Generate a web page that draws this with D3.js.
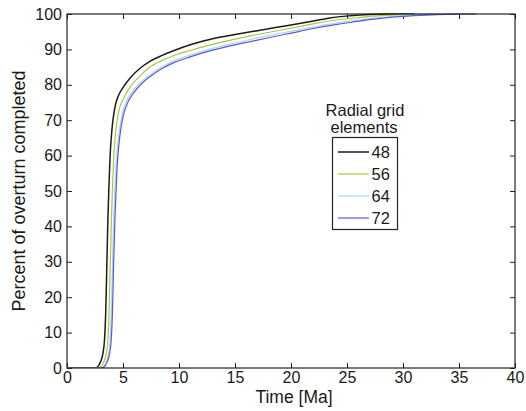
<!DOCTYPE html>
<html>
<head>
<meta charset="utf-8">
<script src="https://cdn.jsdelivr.net/npm/d3@7"></script>
<style>
  html, body { margin: 0; padding: 0; background: #fff; }
  svg text { font-family: "Liberation Sans", Arial, Helvetica, sans-serif; fill: #1a1a1a; }
</style>
</head>
<body>
<svg id="chart" width="526" height="411"></svg>
<script>
// ---- data ----
const seriesLabels = ["48", "56", "64", "72"];
const xTicks = [0, 5, 10, 15, 20, 25, 30, 35, 40];
const yTicks = [0, 10, 20, 30, 40, 50, 60, 70, 80, 90, 100];

const series48 = [[0,0],[2.5,0],[2.8,0.6],[3.0,1.8],[3.2,4],[3.35,8],[3.45,15],[3.55,28],[3.65,42],[3.75,52],[3.85,60],[3.95,65],[4.1,70],[4.3,74],[4.6,77],[5.0,79.2],[5.6,81.8],[6.5,84.6],[7.4,86.6],[8.5,88.3],[9.5,89.6],[11,91.3],[13,93.0],[15,94.2],[17,95.3],[20,96.9],[22,98.0],[23.5,98.9],[25.3,99.5],[27,99.85],[28.5,100],[31,100]];
const series56 = [[0,0],[2.8,0],[3.1,0.6],[3.3,1.8],[3.5,4],[3.65,8],[3.75,15],[3.85,28],[3.95,40],[4.05,50],[4.15,58],[4.3,65],[4.45,69.5],[4.7,73.5],[5.1,76.5],[5.6,79.2],[6.3,81.8],[7.4,85.0],[8.5,86.9],[9.5,88.2],[11,89.7],[13,91.4],[15,92.9],[17,94.2],[19,95.4],[21,96.6],[22.3,97.4],[24,98.3],[26,99.0],[28.3,99.6],[30,99.85],[32.5,100],[33,100]];
const series64 = [[0,0],[3.0,0],[3.3,0.6],[3.5,1.8],[3.7,4],[3.85,8],[3.95,15],[4.05,28],[4.17,42],[4.27,50],[4.37,57],[4.52,63],[4.72,68],[4.95,72],[5.35,75.7],[5.8,77.9],[6.4,80.2],[7.4,82.8],[8.5,85.1],[9.5,86.7],[11,88.4],[13,90.3],[15,91.8],[16.35,92.8],[18,93.9],[20,95.1],[22,96.3],[24,97.4],[25.3,98.0],[27,98.7],[29,99.3],[31,99.7],[33,99.9],[35,100]];
const series72 = [[0,0],[3.1,0],[3.4,0.6],[3.6,1.8],[3.8,4],[3.95,8],[4.05,15],[4.15,28],[4.28,42],[4.38,50],[4.48,57],[4.63,63],[4.83,68],[5.08,72],[5.5,75.5],[5.9,77.5],[6.5,79.8],[7.4,82.3],[8.5,84.6],[9.5,86.2],[11,87.9],[13,89.8],[15,91.3],[16.35,92.2],[18,93.3],[20,94.6],[22,95.9],[24,97.0],[25.3,97.6],[27,98.4],[29,99.1],[31,99.55],[33,99.85],[35,99.97],[36.5,100]];

const allSeries = [series48, series56, series64, series72];
const seriesColors = ["#1c1c1c", "#a9c83c", "#a6d6f2", "#5b58d6"];
const seriesWidths = [1.5, 1.2, 1.2, 1.2];

// ---- layout ----
const svg = d3.select("#chart");
const mLeft = 67, mRight = 515, mTop = 14, mBottom = 368;
const x = d3.scaleLinear().domain([0, 40]).range([mLeft, mRight]);
const y = d3.scaleLinear().domain([0, 100]).range([mBottom, mTop]);
const tickFont = 16;

// axes with inward ticks
const gB = svg.append("g").attr("transform", `translate(0,${mBottom})`)
  .call(d3.axisBottom(x).tickValues(xTicks).tickSizeInner(-5).tickSizeOuter(0).tickPadding(3));
const gT = svg.append("g").attr("transform", `translate(0,${mTop})`)
  .call(d3.axisTop(x).tickValues(xTicks).tickSizeInner(-5).tickSizeOuter(0).tickFormat(""));
const gL = svg.append("g").attr("transform", `translate(${mLeft},0)`)
  .call(d3.axisLeft(y).tickValues(yTicks).tickSizeInner(-5).tickSizeOuter(0).tickPadding(5));
const gR = svg.append("g").attr("transform", `translate(${mRight},0)`)
  .call(d3.axisRight(y).tickValues(yTicks).tickSizeInner(-5).tickSizeOuter(0).tickFormat(""));

[gB, gT, gL, gR].forEach(g => {
  g.select(".domain").remove();
  g.selectAll(".tick line").attr("stroke", "#222").attr("stroke-width", 1);
  g.selectAll(".tick text").attr("font-size", tickFont).style("fill", "#1a1a1a");
});
gB.selectAll(".tick text").attr("dy", "0.72em");

// curves
const line = d3.line().x(d => x(d[0])).y(d => y(d[1])).curve(d3.curveMonotoneX);
svg.append("clipPath").attr("id", "clip").append("rect")
  .attr("x", mLeft).attr("y", mTop - 1).attr("width", mRight - mLeft).attr("height", mBottom - mTop + 1);
svg.append("g").attr("clip-path", "url(#clip)")
  .selectAll("path").data(allSeries).join("path")
  .attr("d", line)
  .attr("fill", "none")
  .attr("stroke", (d, i) => seriesColors[i])
  .attr("stroke-width", (d, i) => seriesWidths[i]);

// frame
svg.append("rect").attr("x", mLeft).attr("y", mTop)
  .attr("width", mRight - mLeft).attr("height", mBottom - mTop)
  .attr("fill", "none").attr("stroke", "#222").attr("stroke-width", 1.2);

// axis labels
svg.append("text").attr("x", (mLeft + mRight) / 2 + 3).attr("y", 403)
  .attr("text-anchor", "middle").attr("font-size", 17.5).text("Time [Ma]");
svg.append("text").attr("transform", `translate(25,${(mTop + mBottom) / 2}) rotate(-90)`)
  .attr("text-anchor", "middle").attr("font-size", 18).text("Percent of overturn completed");

// legend
const lg = svg.append("g");
lg.append("text").attr("x", 365).attr("y", 116).attr("text-anchor", "middle")
  .attr("font-size", 16.5).text("Radial grid");
lg.append("text").attr("x", 364).attr("y", 133).attr("text-anchor", "middle")
  .attr("font-size", 16.5).text("elements");
lg.append("rect").attr("x", 332.5).attr("y", 137.5).attr("width", 65).attr("height", 92)
  .attr("fill", "#fff").attr("stroke", "#222").attr("stroke-width", 1.2);
seriesLabels.forEach((lab, i) => {
  const cy = 152 + i * 22;
  lg.append("line").attr("x1", 338).attr("x2", 369).attr("y1", cy).attr("y2", cy)
    .attr("stroke", seriesColors[i]).attr("stroke-width", seriesWidths[i]);
  lg.append("text").attr("x", 371.5).attr("y", cy).attr("dy", "0.36em")
    .attr("font-size", 16.5).text(lab);
});
</script>
</body>
</html>
